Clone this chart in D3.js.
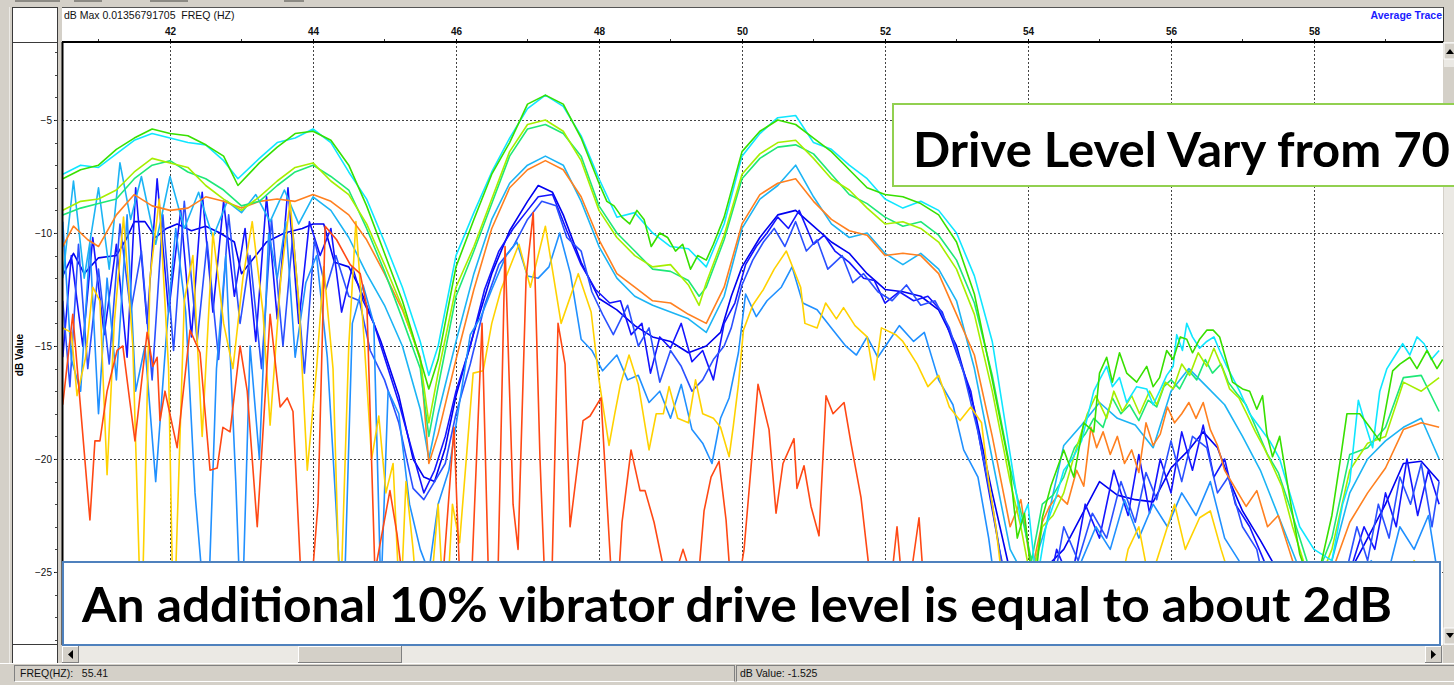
<!DOCTYPE html>
<html>
<head>
<meta charset="utf-8">
<script src="https://d3js.org/d3.v7.min.js"></script>
<style>
body{margin:0;background:#d4d0c8;overflow:hidden}
svg{display:block}
</style>
</head>
<body>
<div id="chart"></div>
<script>
// axis ticks
var xTicks = [42, 44, 46, 48, 50, 52, 54, 56, 58];
var xMinorTicks = [41, 43, 45, 47, 49, 51, 53, 55, 57, 59];
var yTicks = [-5, -10, -15, -20, -25];
var yMinorTicks = [-2,-3,-4,-5,-6,-7,-8,-9,-10,-11,-12,-13,-14,-15,-16,-17,-18,-19,-20,-21,-22,-23,-24,-25,-26,-27,-28];

// traces: [freq Hz, dB]
var traceGreen = [[40.5,-7.6],[40.75,-7.2],[41,-7.0],[41.25,-6.3],[41.5,-5.8],[41.75,-5.4],[42,-5.6],[42.25,-5.7],[42.5,-6.1],[42.75,-6.6],[42.95,-7.9],[43.25,-6.9],[43.5,-6.2],[43.75,-5.6],[44,-5.5],[44.25,-5.9],[44.5,-7.0],[44.75,-8.8],[45,-10.9],[45.25,-13.0],[45.5,-15.6],[45.62,-16.9],[45.75,-15.6],[46,-11.5],[46.25,-9.4],[46.5,-7.4],[46.75,-6.0],[47,-4.3],[47.25,-3.9],[47.5,-4.3],[47.75,-5.8],[48,-7.8],[48.11,-8.6],[48.21,-8.8],[48.32,-9.3],[48.43,-9.6],[48.53,-9.0],[48.63,-9.4],[48.73,-10.6],[48.85,-10.0],[48.96,-10.2],[49.07,-10.8],[49.17,-10.5],[49.28,-11.6],[49.38,-11.0],[49.5,-11.2],[49.6,-10.5],[49.75,-9.3],[50,-6.4],[50.25,-5.5],[50.5,-5.0],[50.75,-5.2],[51,-5.8],[51.25,-6.4],[51.5,-7.2],[51.75,-8.0],[52,-8.3],[52.25,-8.4],[52.5,-8.7],[52.75,-9.2],[53,-10.4],[53.25,-12.7],[53.5,-16.5],[53.75,-20.5],[53.85,-23.5],[53.95,-22.4],[54.08,-26],[54.2,-22.6],[54.32,-21.2],[54.5,-19.6],[54.64,-20.8],[54.78,-18.4],[54.92,-18.8],[55.0,-16.2],[55.1,-15.5],[55.18,-16.6],[55.28,-15.3],[55.38,-16.2],[55.52,-16.6],[55.66,-15.9],[55.75,-16.8],[55.84,-16.4],[55.94,-15.2],[56.03,-15.6],[56.13,-14.6],[56.22,-14.7],[56.3,-15.3],[56.4,-14.7],[56.5,-14.3],[56.59,-14.3],[56.68,-14.6],[56.77,-15.6],[56.86,-16.6],[57.0,-16.9],[57.1,-17.0],[57.2,-17.8],[57.28,-17.2],[57.34,-18.9],[57.42,-19.9],[57.52,-19.0],[57.66,-21.7],[57.8,-24.2],[58.0,-26.0],[58.25,-22.5],[58.37,-20.0],[58.46,-18.0],[58.64,-18.0],[58.78,-18.6],[58.92,-19.2],[59.1,-16.1],[59.2,-15.8],[59.34,-15.5],[59.44,-16.0],[59.58,-15.2],[59.72,-16.0],[59.8,-15.6]];
var traceCyan = [[40.5,-7.4],[40.75,-7.0],[41,-7.1],[41.25,-6.5],[41.5,-5.9],[41.75,-5.6],[42,-5.8],[42.25,-6.0],[42.5,-6.1],[42.75,-6.8],[42.95,-7.6],[43.25,-6.7],[43.5,-6.0],[43.75,-5.8],[44,-5.4],[44.25,-6.0],[44.5,-7.3],[44.75,-8.5],[45,-10.4],[45.25,-12.4],[45.5,-14.8],[45.62,-16.3],[45.75,-15.0],[46,-11.0],[46.25,-9.1],[46.5,-7.3],[46.75,-5.8],[47,-4.5],[47.25,-3.9],[47.5,-4.4],[47.75,-5.7],[48,-7.6],[48.25,-9.3],[48.5,-9.1],[48.75,-10.0],[49,-10.6],[49.25,-10.7],[49.5,-11.5],[49.75,-9.6],[50,-6.6],[50.25,-5.6],[50.5,-4.9],[50.75,-4.8],[51,-6.0],[51.25,-6.3],[51.5,-7.0],[51.75,-7.6],[52,-8.5],[52.25,-8.9],[52.5,-8.6],[52.75,-9.0],[53,-10.0],[53.25,-11.9],[53.5,-14.8],[53.75,-19.8],[53.9,-22.8],[54.0,-22.0],[54.12,-25.5],[54.25,-23.0],[54.38,-21.8],[54.5,-20.5],[54.62,-20.0],[54.75,-19.2],[54.92,-17.0],[55.0,-16.5],[55.1,-15.9],[55.18,-16.8],[55.28,-16.4],[55.38,-17.5],[55.52,-16.8],[55.66,-16.9],[55.75,-17.6],[55.84,-17.0],[55.94,-16.3],[56.03,-15.9],[56.08,-14.5],[56.16,-15.2],[56.22,-14.0],[56.3,-14.6],[56.4,-15.1],[56.5,-14.8],[56.6,-14.6],[56.68,-15.2],[56.78,-15.9],[56.96,-17.0],[57.1,-18.0],[57.24,-18.6],[57.38,-19.2],[57.52,-20.0],[57.66,-21.5],[57.8,-23.0],[58,-24.0],[58.25,-24.5],[58.4,-22.0],[58.5,-21.0],[58.62,-17.4],[58.72,-18.5],[58.82,-19.5],[58.92,-17.0],[59.02,-16.0],[59.12,-15.5],[59.24,-14.9],[59.34,-15.4],[59.44,-14.6],[59.54,-14.9],[59.64,-15.6],[59.75,-15.2]];
var traceLime = [[40.5,-9.0],[40.75,-8.6],[41,-8.5],[41.25,-8.1],[41.5,-7.3],[41.75,-6.7],[42,-6.9],[42.25,-7.1],[42.5,-7.9],[42.75,-8.5],[43,-9.0],[43.25,-8.4],[43.5,-7.7],[43.75,-7.1],[44,-6.9],[44.25,-7.7],[44.5,-8.3],[44.75,-9.6],[45,-11.4],[45.25,-13.3],[45.5,-15.6],[45.62,-18.4],[45.75,-16.2],[46,-12.4],[46.25,-10.6],[46.5,-8.5],[46.75,-6.4],[47,-5.2],[47.25,-5.0],[47.5,-5.5],[47.75,-6.8],[48,-9.0],[48.25,-10.2],[48.5,-11.0],[48.75,-11.5],[49,-11.4],[49.25,-12.3],[49.4,-13.2],[49.5,-12.2],[49.75,-10.1],[50,-7.4],[50.25,-6.5],[50.5,-6.0],[50.75,-5.9],[51,-6.7],[51.25,-7.6],[51.5,-8.1],[51.75,-8.9],[52,-9.6],[52.25,-9.5],[52.5,-9.8],[52.75,-10.4],[53,-11.6],[53.25,-13.6],[53.5,-17.0],[53.75,-21.0],[53.9,-23.0],[54.05,-25.5],[54.2,-23.0],[54.35,-22.5],[54.5,-21.5],[54.65,-19.8],[54.83,-18.0],[54.95,-17.2],[55.1,-18.2],[55.2,-17.0],[55.32,-17.9],[55.45,-17.2],[55.56,-18.0],[55.7,-17.0],[55.8,-17.6],[55.92,-16.6],[56.03,-16.9],[56.15,-15.8],[56.26,-16.3],[56.38,-15.3],[56.5,-15.9],[56.6,-15.1],[56.72,-16.0],[56.82,-16.9],[56.95,-17.3],[57.06,-18.0],[57.18,-18.8],[57.3,-19.5],[57.42,-20.3],[57.55,-21.2],[57.7,-23.0],[58,-26],[58.25,-24],[58.5,-20.5],[58.75,-19.3],[59,-19.0],[59.25,-16.6],[59.5,-17.0],[59.75,-16.4]];
var traceSpring = [[40.5,-9.2],[40.75,-8.9],[41,-8.7],[41.25,-8.5],[41.5,-7.6],[41.75,-7.0],[42,-6.8],[42.25,-7.3],[42.5,-7.6],[42.75,-8.1],[43,-8.8],[43.25,-8.6],[43.5,-7.9],[43.75,-7.3],[44,-7.0],[44.25,-7.5],[44.5,-8.1],[44.75,-9.8],[45,-11.7],[45.25,-13.8],[45.5,-16.0],[45.62,-19.0],[45.75,-16.8],[46,-12.8],[46.25,-10.8],[46.5,-8.7],[46.75,-6.6],[47,-5.4],[47.25,-5.2],[47.5,-5.6],[47.75,-6.6],[48,-8.8],[48.25,-10.0],[48.5,-10.8],[48.75,-11.6],[49,-11.7],[49.25,-12.1],[49.4,-12.8],[49.5,-12.4],[49.75,-10.3],[50,-7.6],[50.25,-6.7],[50.5,-6.2],[50.75,-6.1],[51,-6.5],[51.25,-7.4],[51.5,-8.3],[51.75,-8.7],[52,-9.3],[52.25,-9.7],[52.5,-9.5],[52.75,-10.1],[53,-11.2],[53.25,-13.1],[53.5,-16.3],[53.75,-20.4],[53.92,-22.6],[54.05,-24.5],[54.2,-22.0],[54.35,-21.6],[54.5,-20.8],[54.65,-19.5],[54.8,-18.9],[54.92,-18.2],[55.05,-18.6],[55.18,-17.3],[55.3,-18.0],[55.42,-17.6],[55.55,-18.3],[55.68,-17.4],[55.8,-17.7],[55.9,-16.8],[56.0,-16.5],[56.12,-16.9],[56.25,-16.1],[56.36,-16.5],[56.48,-15.6],[56.58,-16.2],[56.7,-15.8],[56.8,-16.6],[56.92,-17.1],[57.05,-17.6],[57.2,-18.7],[57.35,-19.8],[57.5,-20.6],[57.65,-22.0],[57.8,-23.5],[58,-25.5],[58.25,-23.5],[58.5,-19.8],[58.75,-19.5],[59,-18.6],[59.25,-16.4],[59.5,-16.3],[59.75,-17.9]];
var traceOrange = [[40.5,-10.6],[40.65,-9.7],[40.85,-10.3],[41,-10.6],[41.25,-9.2],[41.5,-8.3],[41.75,-8.8],[42,-9.0],[42.25,-8.9],[42.5,-8.4],[42.75,-8.6],[43,-8.9],[43.25,-8.6],[43.5,-8.5],[43.75,-8.6],[44,-8.3],[44.25,-8.6],[44.5,-9.2],[44.75,-10.3],[45,-11.8],[45.25,-13.4],[45.5,-15.5],[45.62,-20.2],[45.75,-18.9],[46,-15.6],[46.25,-12.5],[46.5,-9.8],[46.75,-8.0],[47,-7.2],[47.25,-6.8],[47.5,-7.2],[47.75,-8.4],[48,-10.3],[48.25,-11.8],[48.5,-12.4],[48.75,-13.0],[49,-13.1],[49.25,-13.6],[49.5,-14.0],[49.75,-12.4],[50,-9.6],[50.25,-8.3],[50.5,-7.8],[50.75,-7.6],[51,-8.6],[51.25,-9.4],[51.5,-9.9],[51.75,-10.1],[52,-11.0],[52.25,-10.9],[52.5,-11.0],[52.75,-11.8],[53,-13.6],[53.25,-15.4],[53.5,-19.0],[53.75,-23.0],[53.9,-21.8],[54.05,-25.0],[54.2,-22.8],[54.3,-22.1],[54.42,-21.6],[54.55,-22.0],[54.68,-20.5],[54.78,-21.2],[54.88,-18.6],[54.96,-19.5],[55.05,-18.8],[55.15,-19.8],[55.25,-19.0],[55.35,-20.2],[55.45,-19.6],[55.55,-20.6],[55.65,-18.4],[55.75,-19.4],[55.85,-18.9],[55.95,-17.7],[56.05,-18.4],[56.15,-18.0],[56.25,-17.5],[56.35,-18.2],[56.45,-17.5],[56.55,-18.7],[56.65,-19.4],[56.75,-20.5],[56.9,-21.3],[57.05,-22.1],[57.2,-21.4],[57.35,-23.0],[57.5,-22.5],[57.65,-24.0],[57.8,-25.5],[58,-26.5],[58.25,-25.0],[58.5,-22.8],[58.75,-21.5],[59,-20.4],[59.25,-18.7],[59.5,-18.4],[59.75,-18.6]];
var traceSky = [[40.5,-12.0],[40.65,-7.7],[40.8,-12.0],[41,-8.0],[41.15,-11.6],[41.3,-6.9],[41.45,-9.4],[41.6,-7.5],[41.8,-10.5],[42,-7.5],[42.2,-9.8],[42.4,-8.2],[42.6,-10.2],[42.8,-8.6],[43,-9.1],[43.2,-8.3],[43.4,-9.5],[43.6,-8.1],[43.8,-9.6],[44,-8.4],[44.25,-9.0],[44.5,-10.2],[44.75,-11.8],[45,-13.2],[45.25,-15.0],[45.5,-17.8],[45.62,-20.0],[45.75,-18.0],[46,-14.8],[46.25,-11.8],[46.5,-9.4],[46.75,-7.8],[47,-7.0],[47.25,-6.6],[47.5,-7.0],[47.75,-8.6],[48,-10.6],[48.25,-12.0],[48.5,-12.8],[48.75,-13.2],[49,-13.5],[49.25,-13.8],[49.5,-14.4],[49.75,-12.8],[50,-9.8],[50.25,-8.5],[50.5,-7.9],[50.75,-7.0],[51,-8.4],[51.25,-9.6],[51.5,-10.2],[51.75,-10.0],[52,-10.9],[52.25,-11.4],[52.5,-10.9],[52.75,-11.6],[53,-13.0],[53.25,-16.0],[53.5,-20.0],[53.75,-24.0],[54,-25.5],[54.25,-23.0],[54.5,-19.4],[54.75,-18.5],[55,-17.5],[55.25,-18.2],[55.5,-18.5],[55.75,-19.5],[56,-17.0],[56.25,-16.0],[56.5,-16.8],[56.75,-17.6],[57,-19.0],[57.25,-20.5],[57.5,-22.5],[57.75,-24.5],[58,-27],[58.25,-24.5],[58.5,-21.5],[58.75,-20.0],[59,-19.2],[59.25,-18.6],[59.5,-18.2],[59.75,-20.0]];
var traceBlue = [[40.5,-11.9],[40.65,-10.9],[40.8,-11.8],[41,-11.1],[41.25,-11.0],[41.4,-10.2],[41.5,-9.5],[41.65,-9.5],[41.8,-10.2],[41.95,-9.8],[42.1,-9.6],[42.3,-9.9],[42.5,-9.7],[42.7,-10.0],[42.9,-10.4],[43,-11.8],[43.15,-11.2],[43.35,-10.4],[43.6,-10.0],[43.85,-9.8],[44,-9.6],[44.15,-9.6],[44.3,-11.3],[44.5,-11.5],[44.65,-12.4],[44.8,-13.6],[44.95,-14.8],[45.2,-17.2],[45.4,-20.0],[45.55,-20.8],[45.7,-21.0],[45.85,-19.5],[46,-17.2],[46.25,-14.4],[46.5,-11.8],[46.75,-9.9],[47,-8.6],[47.15,-7.9],[47.35,-8.2],[47.5,-9.2],[47.75,-11.3],[48,-12.9],[48.25,-13.4],[48.5,-14.1],[48.75,-14.6],[49,-14.8],[49.25,-15.3],[49.5,-15.0],[49.7,-14.4],[49.85,-12.8],[50,-11.5],[50.25,-10.2],[50.5,-9.2],[50.75,-9.0],[51,-9.7],[51.25,-10.4],[51.5,-10.9],[51.75,-11.8],[52,-12.5],[52.25,-12.6],[52.5,-12.8],[52.75,-13.4],[53,-15.0],[53.25,-17.8],[53.5,-21.5],[53.75,-25.0],[54,-27],[54.25,-24.8],[54.5,-24.0],[54.75,-22.5],[55,-21.0],[55.25,-21.6],[55.5,-21.8],[55.75,-21.9],[56,-20.4],[56.25,-19.6],[56.45,-18.8],[56.65,-19.5],[56.85,-21.2],[57,-22.3],[57.25,-23.6],[57.5,-25.0],[57.75,-27],[58,-28],[58.25,-26],[58.5,-25],[58.75,-23.5],[59,-22.0],[59.25,-20.2],[59.5,-20.1],[59.75,-21.0]];
var traceBlue2 = [[40.5,-15.5],[40.62,-11.0],[40.78,-15.0],[40.92,-10.2],[41.08,-14.5],[41.25,-10.5],[41.4,-15.5],[41.52,-8.0],[41.68,-14.0],[41.82,-7.6],[41.98,-13.5],[42.15,-9.0],[42.3,-14.6],[42.45,-8.2],[42.6,-13.5],[42.75,-8.6],[42.9,-12.8],[43.05,-9.8],[43.2,-14.8],[43.35,-8.4],[43.5,-13.8],[43.65,-8.0],[43.8,-14.0],[43.95,-9.5],[44.1,-11.0],[44.25,-9.8],[44.4,-13.5],[44.55,-11.5],[44.7,-13.0],[44.85,-14.0],[45,-15.5],[45.2,-17.5],[45.4,-19.8],[45.55,-21.5],[45.7,-20.5],[45.85,-19.0],[46,-17.0],[46.2,-15.0],[46.4,-12.5],[46.6,-10.8],[46.8,-9.8],[47,-9.0],[47.15,-8.4],[47.35,-8.3],[47.55,-9.9],[47.75,-11.4],[47.95,-12.5],[48.15,-13.1],[48.3,-13.0],[48.45,-14.5],[48.6,-14.0],[48.72,-16.2],[48.85,-14.6],[49,-15.1],[49.15,-14.0],[49.3,-15.7],[49.45,-15.2],[49.6,-16.5],[49.75,-14.0],[49.9,-13.1],[50.05,-11.4],[50.2,-10.6],[50.35,-10.0],[50.5,-9.3],[50.65,-9.8],[50.8,-9.0],[51,-10.5],[51.15,-10.1],[51.3,-10.8],[51.5,-11.3],[51.7,-12.0],[51.85,-12.1],[52,-13.1],[52.2,-12.6],[52.4,-13.0],[52.6,-12.8],[52.8,-13.5],[53,-15.3],[53.2,-17.0],[53.4,-20.5],[53.6,-24.0],[53.8,-27],[54.2,-27],[54.4,-24.0],[54.6,-25.5],[54.8,-22.0],[55,-23.5],[55.2,-20.5],[55.4,-22.5],[55.55,-19.8],[55.7,-22.4],[55.85,-20.0],[56,-21.5],[56.15,-18.8],[56.3,-20.5],[56.45,-18.5],[56.6,-20.8],[56.75,-20.0],[56.9,-22.0],[57.1,-23.0],[57.3,-24.5],[57.5,-27],[58.4,-27],[58.55,-24.5],[58.7,-23.0],[58.85,-24.0],[59,-21.5],[59.15,-23.0],[59.3,-20.0],[59.45,-22.5],[59.6,-20.5],[59.75,-22.0]];
var traceBlue3 = [[40.5,-13.0],[40.6,-16.8],[40.72,-10.5],[40.85,-16.0],[41,-11.6],[41.15,-15.8],[41.3,-9.6],[41.45,-13.5],[41.6,-10.8],[41.75,-16.5],[41.9,-9.2],[42.05,-15.2],[42.2,-8.6],[42.38,-14.8],[42.52,-10.4],[42.68,-15.6],[42.82,-9.2],[42.98,-14.0],[43.12,-11.0],[43.28,-16.0],[43.42,-9.4],[43.58,-15.0],[43.72,-10.0],[43.88,-16.2],[44.02,-10.3],[44.18,-12.5],[44.32,-11.0],[44.5,-12.8],[44.65,-13.0],[44.8,-15.2],[45,-16.5],[45.2,-18.4],[45.4,-21.3],[45.55,-21.8],[45.7,-21.0],[45.85,-20.2],[46,-18.0],[46.2,-15.8],[46.4,-13.2],[46.6,-11.4],[46.8,-10.6],[47,-9.4],[47.2,-8.6],[47.4,-8.8],[47.55,-10.2],[47.75,-10.8],[47.9,-12.6],[48.05,-13.6],[48.2,-14.5],[48.4,-13.2],[48.55,-15.0],[48.7,-14.2],[48.85,-16.6],[49.0,-15.2],[49.15,-15.9],[49.3,-17.0],[49.45,-16.5],[49.6,-15.6],[49.75,-15.0],[49.85,-14.2],[50,-12.3],[50.15,-11.2],[50.3,-10.4],[50.45,-9.8],[50.6,-10.6],[50.75,-9.5],[50.9,-10.8],[51.05,-10.3],[51.2,-11.6],[51.4,-11.0],[51.55,-12.2],[51.7,-11.8],[51.9,-12.6],[52.1,-13.0],[52.3,-12.3],[52.5,-13.2],[52.7,-13.0],[52.9,-14.2],[53.1,-16.2],[53.3,-18.8],[53.5,-22.0],[53.7,-26.0],[53.9,-27],[54.1,-25.0],[54.3,-26.5],[54.5,-23.0],[54.7,-24.5],[54.9,-22.4],[55.1,-23.5],[55.3,-21.0],[55.5,-22.8],[55.65,-20.6],[55.8,-21.8],[56,-19.2],[56.15,-21.0],[56.3,-19.0],[56.5,-19.5],[56.65,-21.5],[56.8,-20.8],[57,-23.0],[57.2,-24.0],[57.4,-27],[58.3,-27],[58.45,-25.0],[58.6,-23.0],[58.75,-24.5],[58.9,-22.0],[59.05,-23.5],[59.2,-20.8],[59.35,-22.0],[59.5,-20.2],[59.65,-23.0],[59.75,-21.0]];
var traceDodger = [[40.5,-9.5],[40.62,-15.6],[40.75,-17.0],[40.88,-10.5],[41.0,-18.0],[41.12,-12.0],[41.25,-16.5],[41.4,-9.2],[41.52,-17.0],[41.65,-15.0],[41.8,-21.0],[41.95,-14.5],[42.08,-9.8],[42.22,-13.5],[42.35,-21.5],[42.52,-28],[42.65,-16.0],[42.78,-11.0],[42.92,-21.0],[43.0,-28],[43.12,-15.0],[43.25,-20.0],[43.38,-10.0],[43.5,-12.0],[43.62,-9.5],[43.75,-15.5],[43.9,-12.2],[44.05,-11.0],[44.2,-15.5],[44.32,-22.0],[44.42,-28],[44.55,-14.0],[44.7,-12.3],[44.85,-14.0],[44.95,-26],[45.05,-17.0],[45.2,-18.0],[45.35,-22.0],[45.5,-24.0],[45.62,-25.0],[45.75,-22.0],[45.9,-20.5],[46.05,-17.5],[46.2,-14.5],[46.35,-13.7],[46.5,-12.5],[46.7,-11.0],[46.85,-10.4],[47.0,-11.9],[47.15,-12.0],[47.3,-11.5],[47.45,-10.0],[47.6,-11.8],[47.75,-14.7],[47.9,-15.2],[48.05,-16.1],[48.25,-15.4],[48.4,-16.5],[48.55,-16.3],[48.7,-17.5],[48.85,-17.0],[49,-18.2],[49.15,-16.7],[49.3,-18.7],[49.45,-19.3],[49.58,-20.2],[49.7,-18.2],[49.82,-17.3],[49.95,-15.3],[50.05,-12.7],[50.2,-13.7],[50.35,-13.0],[50.55,-12.4],[50.7,-11.5],[50.85,-13.1],[51.05,-13.4],[51.25,-14.2],[51.45,-15.0],[51.6,-15.4],[51.75,-14.6],[51.9,-15.5],[52.05,-14.8],[52.2,-14.1],[52.4,-14.8],[52.55,-14.4],[52.75,-16.5],[52.95,-17.6],[53.1,-19.6],[53.3,-20.8],[53.45,-23.5],[53.6,-27],[54.6,-27],[54.75,-24.5],[54.95,-23.0],[55.15,-24.0],[55.35,-21.8],[55.55,-23.5],[55.75,-22.0],[55.95,-23.0],[56.15,-21.5],[56.35,-22.5],[56.55,-21.0],[56.75,-23.5],[56.95,-24.5],[57.15,-27],[58.6,-27],[58.8,-24.5],[59.0,-25.5],[59.2,-23.0],[59.4,-24.0],[59.6,-22.5],[59.75,-25.5]];
var traceYellow = [[40.5,-14.2],[40.62,-14.4],[40.7,-17.2],[40.82,-15.5],[40.92,-12.4],[41.02,-13.0],[41.12,-20.7],[41.22,-14.0],[41.35,-9.3],[41.48,-15.0],[41.6,-28],[41.72,-12.0],[41.85,-8.5],[41.98,-16.0],[42.05,-28],[42.2,-13.0],[42.32,-11.0],[42.45,-19.0],[42.6,-10.0],[42.75,-14.0],[42.88,-16.0],[43.02,-12.0],[43.15,-9.5],[43.3,-13.5],[43.4,-18.5],[43.55,-12.0],[43.68,-8.6],[43.8,-13.0],[43.92,-20.5],[44.05,-16.0],[44.15,-11.5],[44.28,-16.0],[44.38,-27],[44.5,-15.0],[44.6,-9.5],[44.72,-15.0],[44.82,-20.0],[44.92,-18.1],[45.02,-21.5],[45.12,-20.2],[45.22,-27],[45.3,-21.0],[45.4,-24.0],[45.5,-28],[45.62,-27],[45.75,-22.0],[45.85,-28],[45.95,-22.0],[46.05,-23.7],[46.24,-16.2],[46.38,-16.1],[46.5,-14.0],[46.63,-12.5],[46.88,-10.5],[47.04,-12.4],[47.25,-9.7],[47.47,-14.0],[47.71,-11.8],[47.89,-13.5],[48.0,-16.5],[48.14,-19.4],[48.22,-18.0],[48.3,-16.7],[48.42,-15.4],[48.55,-16.7],[48.7,-19.6],[48.8,-18.0],[48.9,-18.0],[48.98,-16.8],[49.1,-18.2],[49.25,-18.4],[49.35,-16.5],[49.45,-18.0],[49.6,-18.2],[49.7,-18.6],[49.82,-19.9],[49.88,-18.5],[49.95,-16.7],[50.02,-14.3],[50.15,-13.2],[50.3,-12.5],[50.45,-11.6],[50.62,-10.8],[50.82,-12.4],[50.88,-14.0],[51.05,-14.2],[51.17,-13.1],[51.32,-13.8],[51.42,-13.3],[51.58,-14.1],[51.75,-14.6],[51.85,-16.5],[51.95,-14.2],[52.15,-14.5],[52.25,-14.8],[52.45,-15.8],[52.6,-16.8],[52.75,-16.3],[52.9,-17.7],[53.05,-18.3],[53.2,-17.7],[53.35,-18.4],[53.45,-21.0],[53.55,-23.0],[53.7,-27],[55.2,-27],[55.4,-24.0],[55.55,-23.0],[55.7,-25.5],[55.9,-23.5],[56.05,-22.0],[56.2,-24.0],[56.4,-22.6],[56.55,-22.3],[56.7,-24.0],[56.85,-25.5],[57.0,-27],[59.25,-27],[59.4,-24.5],[59.55,-25.0],[59.7,-27]];
var traceRed = [[40.5,-17.6],[40.64,-13.6],[40.88,-22.7],[40.95,-19.2],[41.02,-19.2],[41.12,-17.0],[41.26,-15.2],[41.34,-15.0],[41.44,-17.5],[41.51,-19.2],[41.68,-14.4],[41.76,-15.9],[41.82,-15.5],[41.86,-18.3],[41.93,-17.0],[42.1,-19.5],[42.28,-14.3],[42.42,-15.3],[42.56,-20.5],[42.66,-20.4],[42.74,-18.6],[42.84,-18.8],[42.98,-15.0],[43.08,-17.0],[43.22,-23.0],[43.4,-13.6],[43.54,-17.7],[43.64,-17.3],[43.72,-17.9],[43.82,-24.5],[43.92,-28],[44.07,-22.0],[44.17,-9.7],[44.33,-10.3],[44.52,-11.4],[44.66,-11.8],[44.755,-13.3],[44.866,-25.0],[45.076,-21.4],[45.174,-23.3],[45.356,-28],[45.776,-27],[45.972,-18.6],[46.084,-28],[46.196,-27],[46.364,-14.0],[46.476,-28],[46.588,-25],[46.686,-10.6],[46.798,-22.0],[46.868,-24.0],[46.98,-12.0],[47.08,-9.1],[47.175,-20.0],[47.273,-28],[47.343,-25],[47.427,-14.0],[47.525,-15.8],[47.595,-23.0],[47.777,-18.3],[47.875,-18.1],[48.028,-17.3],[48.224,-28],[48.322,-22.8],[48.448,-19.6],[48.574,-21.4],[48.644,-21.4],[48.77,-22.8],[48.98,-26],[49.175,-24],[49.371,-26],[49.469,-22.3],[49.567,-20.8],[49.679,-20.1],[49.777,-22.7],[49.875,-27],[50.029,-24],[50.224,-16.7],[50.378,-18.7],[50.476,-22.4],[50.573,-20.2],[50.727,-19.1],[50.769,-21.3],[50.867,-20.3],[50.965,-22.1],[51.077,-23.4],[51.175,-17.2],[51.273,-18.0],[51.427,-17.5],[51.524,-19.3],[51.664,-21.7],[51.818,-26],[52.0,-28],[52.168,-23],[52.28,-27],[52.476,-22.6],[52.573,-27],[52.8,-28],[59.75,-28]];

var traces = [traceBlue, traceBlue2, traceBlue3, traceDodger, traceSky, traceYellow, traceRed, traceOrange, traceSpring, traceLime, traceCyan, traceGreen];
var traceColors = ['#0000f0', '#1414ff', '#2a50ff', '#2090ff', '#1cb4f4', '#ffd200', '#ff4814', '#ff8020', '#1ee878', '#a6ee00', '#10e6ff', '#38e000'];

var W = 1454, H = 685;
var plot = {left: 62, right: 1443, top: 42, bottom: 645};

var svg = d3.select('#chart').append('svg')
  .attr('width', W)
  .attr('height', H)
  .style('font-family', '"Liberation Sans", Arial, sans-serif');

svg.append('rect').attr('width', W).attr('height', H).attr('fill', '#d4d0c8');

// toolbar remnants along the very top
[[15, 45], [74, 28], [150, 38], [284, 20]].forEach(function(d){
  svg.append('rect').attr('x', d[0]).attr('y', 0).attr('width', d[1]).attr('height', 2).attr('fill', '#8c8a84');
});
svg.append('line').attr('x1', 9.5).attr('x2', 9.5).attr('y1', 7).attr('y2', 663).attr('stroke', '#eceae6');

// left axis panel
svg.append('rect').attr('x', 12.5).attr('y', 7.5).attr('width', 45).attr('height', 656)
  .attr('fill', '#fff').attr('stroke', '#3a3a3a');
svg.append('line').attr('x1', 12).attr('x2', 57).attr('y1', 42.5).attr('y2', 42.5).attr('stroke', '#3a3a3a');
svg.append('line').attr('x1', 12).attr('x2', 57).attr('y1', 644.5).attr('y2', 644.5).attr('stroke', '#3a3a3a');

// plot panel
svg.append('rect').attr('x', plot.left).attr('y', 7).attr('width', plot.right - plot.left).attr('height', plot.bottom - 7)
  .attr('fill', '#fff');
svg.append('line').attr('x1', plot.left).attr('x2', plot.right + 1).attr('y1', 7.5).attr('y2', 7.5).attr('stroke', '#555');
svg.append('line').attr('x1', plot.right + 0.5).attr('x2', plot.right + 0.5).attr('y1', 7).attr('y2', plot.top).attr('stroke', '#333');

var x = d3.scaleLinear().domain([40.5, 59.79]).range([62.75, 1442]);
var y = d3.scaleLinear().domain([-1.55, -28.2]).range([42, 644.3]);

// grid
var grid = svg.append('g');
grid.selectAll('.vg').data(xTicks).enter().append('line')
  .attr('x1', function(d){ return Math.round(x(d)) + 0.5; })
  .attr('x2', function(d){ return Math.round(x(d)) + 0.5; })
  .attr('y1', plot.top).attr('y2', plot.bottom)
  .attr('stroke', '#444').attr('stroke-dasharray', '2,2');
grid.selectAll('.hg').data(yTicks).enter().append('line')
  .attr('x1', plot.left).attr('x2', plot.right)
  .attr('y1', function(d){ return Math.round(y(d)) + 0.5; })
  .attr('y2', function(d){ return Math.round(y(d)) + 0.5; })
  .attr('stroke', '#444').attr('stroke-dasharray', '2,2');

// traces
svg.append('clipPath').attr('id', 'plotclip').append('rect')
  .attr('x', plot.left + 1).attr('y', plot.top + 1)
  .attr('width', plot.right - plot.left - 1).attr('height', plot.bottom - plot.top - 1);

var line = d3.line().x(function(d){ return x(d[0]); }).y(function(d){ return y(d[1]); });

svg.append('g').attr('clip-path', 'url(#plotclip)')
  .selectAll('path').data(traces).enter().append('path')
  .attr('d', line)
  .attr('fill', 'none')
  .attr('stroke', function(d, i){ return traceColors[i]; })
  .attr('stroke-width', 1.6)
  .attr('stroke-linejoin', 'round');

// top axis
var topAxis = svg.append('g').attr('transform', 'translate(0,' + plot.top + ')')
  .call(d3.axisTop(x).tickValues(xTicks).tickSize(3).tickFormat(d3.format('d')));
topAxis.select('.domain').remove();
topAxis.selectAll('text').attr('font-size', 10).attr('font-weight', 'bold').attr('fill', '#111').attr('dy', '-1px');
svg.append('g').selectAll('line').data(xMinorTicks).enter().append('line')
  .attr('x1', function(d){ return x(d); }).attr('x2', function(d){ return x(d); })
  .attr('y1', plot.top - 3).attr('y2', plot.top).attr('stroke', '#333');
svg.append('line').attr('x1', plot.left).attr('x2', plot.right).attr('y1', plot.top).attr('y2', plot.top)
  .attr('stroke', '#000').attr('stroke-width', 2);
svg.append('line').attr('x1', plot.left + 0.5).attr('x2', plot.left + 0.5).attr('y1', plot.top).attr('y2', plot.bottom)
  .attr('stroke', '#000').attr('stroke-width', 2);

// left axis
var leftAxis = svg.append('g').attr('transform', 'translate(57,0)')
  .call(d3.axisLeft(y).tickValues(yTicks).tickSize(3).tickFormat(d3.format('d')));
leftAxis.select('.domain').remove();
leftAxis.selectAll('text').attr('font-size', 10).attr('fill', '#111').attr('x', -5);
svg.append('g').selectAll('line').data(yMinorTicks).enter().append('line')
  .attr('x1', 55).attr('x2', 57)
  .attr('y1', function(d){ return Math.round(y(d)) + 0.5; })
  .attr('y2', function(d){ return Math.round(y(d)) + 0.5; })
  .attr('stroke', '#444');

svg.append('text').attr('transform', 'translate(23,355) rotate(-90)')
  .attr('text-anchor', 'middle').attr('font-size', 10).attr('font-weight', 'bold').text('dB Value');

// header texts
svg.append('text').attr('x', 64).attr('y', 19).attr('font-size', 10.5).attr('fill', '#111')
  .attr('xml:space', 'preserve').text('dB Max 0.01356791705  FREQ (HZ)');
svg.append('text').attr('x', 1442).attr('y', 19).attr('text-anchor', 'end').attr('font-size', 10.5)
  .attr('font-weight', 'bold').attr('fill', '#1a1aff').text('Average Trace');

// vertical scrollbar (cut by window edge)
svg.append('rect').attr('x', 1444).attr('y', plot.top).attr('width', 12).attr('height', plot.bottom - plot.top).attr('fill', '#ebe9e4');
svg.append('rect').attr('x', 1444).attr('y', 43).attr('width', 12).attr('height', 16).attr('fill', '#d4d0c8').attr('stroke', '#fff');
svg.append('path').attr('d', 'M1446,54 L1450,49 L1454,54 Z').attr('fill', '#000');
svg.append('rect').attr('x', 1444).attr('y', 67).attr('width', 12).attr('height', 120).attr('fill', '#d4d0c8');
svg.append('rect').attr('x', 1444).attr('y', 628).attr('width', 12).attr('height', 16).attr('fill', '#d4d0c8').attr('stroke', '#fff');
svg.append('path').attr('d', 'M1446,633 L1450,638 L1454,633 Z').attr('fill', '#000');

// horizontal scrollbar
svg.append('rect').attr('x', plot.left).attr('y', 646).attr('width', plot.right - plot.left).attr('height', 17).attr('fill', '#ebe9e4');
function button(x0, w){
  svg.append('rect').attr('x', x0 + 0.5).attr('y', 646.5).attr('width', w - 1).attr('height', 16).attr('fill', '#d4d0c8')
    .attr('stroke', '#fff');
  svg.append('line').attr('x1', x0 + w - 0.5).attr('x2', x0 + w - 0.5).attr('y1', 646).attr('y2', 663).attr('stroke', '#808080');
  svg.append('line').attr('x1', x0).attr('x2', x0 + w).attr('y1', 662.5).attr('y2', 662.5).attr('stroke', '#808080');
}
button(62, 17);
button(298, 104);
button(1425, 17);
svg.append('path').attr('d', 'M68,654.5 L73,650 L73,659 Z').attr('fill', '#000');
svg.append('path').attr('d', 'M1436,654.5 L1431,650 L1431,659 Z').attr('fill', '#000');

// status bar
svg.append('rect').attr('x', 0).attr('y', 663).attr('width', W).attr('height', 22).attr('fill', '#d4d0c8');
svg.append('line').attr('x1', 0).attr('x2', W).attr('y1', 663.5).attr('y2', 663.5).attr('stroke', '#fff');
[[14.5, 720], [736.5, 720]].forEach(function(d){
  svg.append('rect').attr('x', d[0]).attr('y', 665.5).attr('width', d[1]).attr('height', 16)
    .attr('fill', 'none').attr('stroke', '#808080');
  svg.append('line').attr('x1', d[0]).attr('x2', d[0] + d[1]).attr('y1', 681.5).attr('y2', 681.5).attr('stroke', '#fff');
});
svg.append('text').attr('x', 20).attr('y', 677).attr('font-size', 10.5).attr('fill', '#111')
  .attr('xml:space', 'preserve').text('FREQ(HZ):   55.41');
svg.append('text').attr('x', 740).attr('y', 677).attr('font-size', 10.5).attr('fill', '#111')
  .attr('xml:space', 'preserve').text('dB Value: -1.525');

// call-out boxes
svg.append('rect').attr('x', 893).attr('y', 104).attr('width', 580).attr('height', 82)
  .attr('fill', '#fff').attr('stroke', '#92d050').attr('stroke-width', 2);
svg.append('text').attr('x', 913).attr('y', 167)
  .attr('font-family', 'Lato, "Open Sans", sans-serif').attr('font-weight', 'bold').attr('font-size', 48)
  .attr('textLength', 537).attr('lengthAdjust', 'spacingAndGlyphs')
  .text('Drive Level Vary from 70');

svg.append('rect').attr('x', 63).attr('y', 562).attr('width', 1377).attr('height', 83)
  .attr('fill', '#fff').attr('stroke', '#4f81bd').attr('stroke-width', 2);
svg.append('text').attr('x', 82).attr('y', 622)
  .attr('font-family', 'Lato, "Open Sans", sans-serif').attr('font-weight', 'bold').attr('font-size', 48)
  .attr('textLength', 1310).attr('lengthAdjust', 'spacingAndGlyphs')
  .text('An additional 10% vibrator drive level is equal to about 2dB');
</script>
</body>
</html>
